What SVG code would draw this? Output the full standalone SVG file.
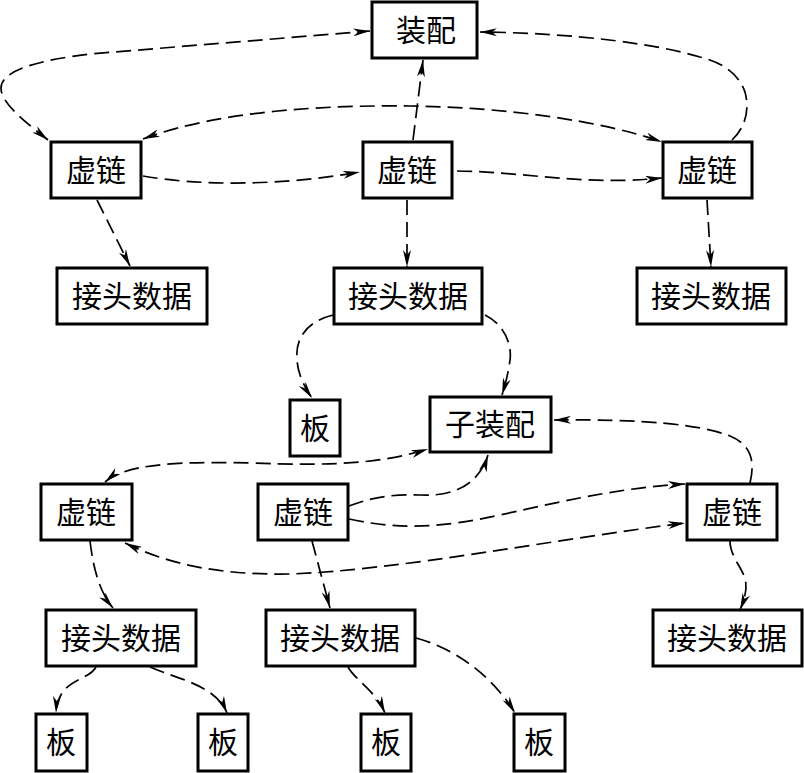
<svg xmlns="http://www.w3.org/2000/svg" width="804" height="773" viewBox="0 0 804 773">
<style>
.box{fill:#fff;stroke:#000;stroke-width:3}
.lbl{font-family:"Noto Sans CJK SC","Noto Sans CJK JP",sans-serif;font-size:30px;fill:#000;text-anchor:middle}
.c{fill:none;stroke:#000;stroke-width:1.7;stroke-dasharray:15 7}
.e{marker-end:url(#ah)}
.b{marker-start:url(#ah);marker-end:url(#ah)}
</style>
<defs>
<marker id="ah" viewBox="0 0 17 8" refX="17" refY="4" markerWidth="17" markerHeight="8" markerUnits="userSpaceOnUse" orient="auto-start-reverse">
<path d="M0,0 L17,4 L0,8 L5,4 z" fill="#000"/>
</marker>
</defs>
<rect width="804" height="773" fill="#fff"/>
<g id="connectors">
<path class="c b" d="M48,140 C28,124 1,104 1,88 C1,70 40,60 90,54 L370,31"/>
<path class="c e" d="M732,140 C745,128 750,110 745,92 C738,72 720,62 700,57 C660,45 580,33 480,32"/>
<path class="c e" d="M413,140 L423,60"/>
<path class="c b" d="M143,139 C220,110 330,105 410,106 C500,107 600,120 662,142"/>
<path class="c e" d="M143,176 C200,186 280,186 360,172"/>
<path class="c e" d="M457,171 C530,172 580,186 662,178"/>
<path class="c e" d="M97,200 L130,266"/>
<path class="c e" d="M407,200 L407,267"/>
<path class="c e" d="M707,200 L711,267"/>
<path class="c e" d="M333,315 C305,322 295,340 297,360 C298,375 305,388 312,398"/>
<path class="c e" d="M485,315 C505,325 512,345 510,360 C508,375 505,385 502,395"/>
<path class="c b" d="M105,482 C125,465 170,461 250,463 C330,466 380,464 428,449"/>
<path class="c e" d="M349,506 C370,498 390,494 420,495 C460,497 480,480 488,455"/>
<path class="c e" d="M750,483 C755,462 752,445 730,436 C700,424 640,419 554,420"/>
<path class="c e" d="M349,519 C400,530 440,528 500,515 C580,497 630,487 685,484"/>
<path class="c b" d="M125,543 C170,565 220,575 290,574 C400,570 550,540 685,523"/>
<path class="c e" d="M90,541 C93,565 98,590 113,608"/>
<path class="c e" d="M312,541 L330,608"/>
<path class="c e" d="M730,541 C730,555 740,565 745,578 C748,590 744,600 740,610"/>
<path class="c e" d="M96,667 C88,682 58,678 56,713"/>
<path class="c e" d="M150,667 C180,680 215,685 227,713"/>
<path class="c e" d="M348,667 C355,680 375,690 385,713"/>
<path class="c e" d="M416,638 C460,650 495,680 515,713"/>
</g>
<g id="n-zhuangpei"><rect class="box" x="372" y="2" width="105" height="56"/><text class="lbl" x="426" y="41">装配</text></g>
<g id="n-xl1"><rect class="box" x="51" y="142" width="90" height="56"/><text class="lbl" x="96" y="181">虚链</text></g>
<g id="n-xl2"><rect class="box" x="363" y="142" width="89" height="56"/><text class="lbl" x="407" y="181">虚链</text></g>
<g id="n-xl3"><rect class="box" x="663" y="142" width="89" height="56"/><text class="lbl" x="707" y="181">虚链</text></g>
<g id="n-jt1"><rect class="box" x="57" y="268" width="150" height="56"/><text class="lbl" x="132" y="307">接头数据</text></g>
<g id="n-jt2"><rect class="box" x="334" y="268" width="148" height="56"/><text class="lbl" x="408" y="307">接头数据</text></g>
<g id="n-jt3"><rect class="box" x="637" y="268" width="149" height="56"/><text class="lbl" x="711" y="307">接头数据</text></g>
<g id="n-ban1"><rect class="box" x="290" y="400" width="50" height="56"/><text class="lbl" x="315" y="439">板</text></g>
<g id="n-zizhuangpei"><rect class="box" x="430" y="397" width="121" height="55"/><text class="lbl" x="490" y="435">子装配</text></g>
<g id="n-xl4"><rect class="box" x="41" y="484" width="91" height="56"/><text class="lbl" x="86" y="523">虚链</text></g>
<g id="n-xl5"><rect class="box" x="258" y="484" width="90" height="56"/><text class="lbl" x="303" y="523">虚链</text></g>
<g id="n-xl6"><rect class="box" x="687" y="484" width="90" height="56"/><text class="lbl" x="732" y="523">虚链</text></g>
<g id="n-jt4"><rect class="box" x="46" y="610" width="150" height="56"/><text class="lbl" x="121" y="649">接头数据</text></g>
<g id="n-jt5"><rect class="box" x="266" y="610" width="149" height="56"/><text class="lbl" x="340" y="649">接头数据</text></g>
<g id="n-jt6"><rect class="box" x="653" y="610" width="149" height="56"/><text class="lbl" x="727" y="649">接头数据</text></g>
<g id="n-ban2"><rect class="box" x="36" y="714" width="51" height="57"/><text class="lbl" x="61" y="753">板</text></g>
<g id="n-ban3"><rect class="box" x="198" y="714" width="50" height="57"/><text class="lbl" x="223" y="753">板</text></g>
<g id="n-ban4"><rect class="box" x="361" y="714" width="50" height="57"/><text class="lbl" x="386" y="753">板</text></g>
<g id="n-ban5"><rect class="box" x="514" y="714" width="51" height="57"/><text class="lbl" x="539" y="753">板</text></g>
</svg>
